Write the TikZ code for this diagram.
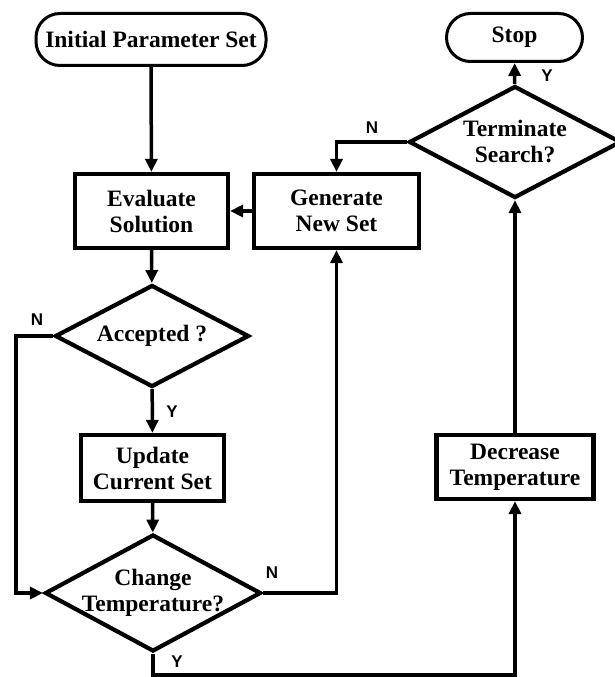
\documentclass[tikz,border=0pt]{standalone}
\usepackage{fontspec}
\setmainfont{Liberation Serif}
\newfontfamily\ynfont{Liberation Sans}
\usepackage{tikz}
\usetikzlibrary{positioning}
\usetikzlibrary{shapes.geometric}
\usetikzlibrary{arrows.meta}

\tikzset{
	flowtxt/.style={font=\fontsize{23.5}{26}\selectfont\bfseries, align=center},
	pill/.style={flowtxt, draw, line width=3pt, rounded corners=24pt, inner sep=0pt},
	procbox/.style={flowtxt, draw, line width=4.2pt, inner sep=0pt},
	decis/.style={draw, diamond, line width=4.2pt, inner sep=0pt},
	conn/.style={line width=3.5pt, -{Triangle[width=12pt,length=13pt]}},
	yn/.style={font=\ynfont\fontsize{17}{17}\selectfont\bfseries}
}

\begin{document}
\begin{tikzpicture}[x=1pt, y=-1pt]
	\useasboundingbox (0,0) rectangle (614,677);
	
	\node at (151,39.5) (initpar) [pill, minimum width=230, minimum height=52] {Initial Parameter Set};
	\node at (514.5,37.5) (stopp) [pill, minimum width=136, minimum height=48] {Stop};
	
	\node at (151.5,211) (evalsol) [procbox, minimum width=153, minimum height=74] {Evaluate\\Solution};
	\node at (336.5,211) (generat) [procbox, minimum width=165, minimum height=74] {Generate\\New Set};
	\node at (152.5,468) (updat) [procbox, minimum width=143, minimum height=66] {Update\\Current Set};
	\node at (515,467) (decreas) [procbox, minimum width=157, minimum height=64] {Decrease\\Temperature};
	
	\node at (152,336) (accept) [decis, minimum width=194, minimum height=102] {};
	\node at (accept) (acceptx) [flowtxt] {Accepted ?};
	\node at (153,593) (changet) [decis, minimum width=216, minimum height=117] {};
	\node at (changet) (changetx) [flowtxt] {Change\\Temperature?};
	\node at (515,142) (termina) [decis, minimum width=212, minimum height=112] {};
	\node at (termina) (terminax) [flowtxt] {Terminate\\Search?};
	
	\coordinate (lftlin) at (16,336);
	\coordinate (botlin) at (153,675);
	
	\draw[conn] (initpar) -- (evalsol);
	\draw[conn] (generat) -- (evalsol);
	\draw[conn] (evalsol) -- (accept);
	\draw[conn] (accept) -- (updat);
	\draw[conn] (updat) -- (changet);
	\draw[conn] (accept.west) -- (lftlin) |- (changet.west);
	\draw[conn] (changet.east) -| (generat.south);
	\draw[conn] (changet.south) -- (botlin) -| (decreas.south);
	\draw[conn] (decreas) -- (termina);
	\draw[conn] (termina) -- (stopp);
	\draw[conn] (termina.west) -| (generat.north);
	
	\node at (372,128) (ntermi) [yn] {N};
	\node at (547,76) (ytermi) [yn] {Y};
	\node at (37,320) (naccep) [yn] {N};
	\node at (172,412) (yaccep) [yn] {Y};
	\node at (272,573) (nchang) [yn] {N};
	\node at (177,662) (ychang) [yn] {Y};
	
\end{tikzpicture}
\end{document}
